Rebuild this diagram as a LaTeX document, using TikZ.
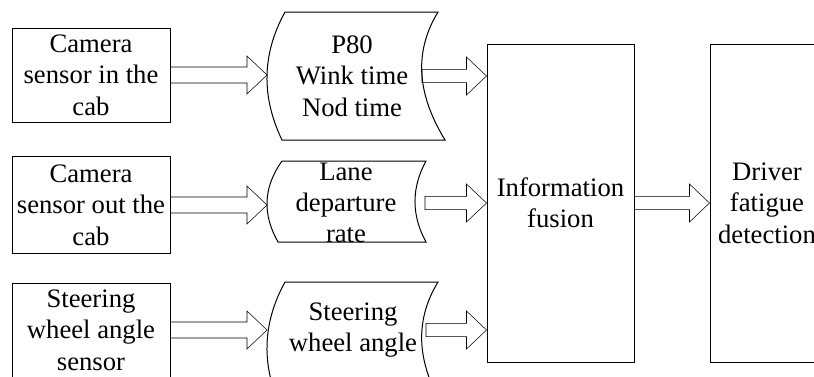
\documentclass[tikz,border=0pt]{standalone}
\usepackage{fontspec}
\setmainfont{Liberation Serif}
\usetikzlibrary{calc}
\begin{document}
\begin{tikzpicture}[x=0.75pt,y=-0.75pt,
  every node/.style={font=\fontsize{20}{23.5}\selectfont, align=center, inner sep=0pt},
  box/.style={draw, line width=0.75pt},
  outline/.style={draw, line width=0.75pt},
  blockarrow/.style={draw, line width=0.6pt, line join=miter,
    to path={let \p1=(\tikztostart), \p2=(\tikztotarget) in
      (\x1,\y1+#1) -- (\x2-15pt,\y1+#1) -- (\x2-15pt,\y1+14.25pt) -- (\x2,\y1)
      -- (\x2-15pt,\y1-14.25pt) -- (\x2-15pt,\y1-#1) -- (\x1,\y1-#1) -- cycle}},
  blockarrow/.default=5pt
]
\useasboundingbox (0,0) rectangle (814,376);
\clip (0,0) rectangle (814,376);

% left boxes
\node[box, minimum width=118.5pt, minimum height=70.5pt] (b1) at (91,75) {Camera\\sensor in the\\cab};
\node[box, minimum width=118.5pt, minimum height=72.75pt] (b2) at (91,205) {Camera\\sensor out the\\cab};
\node[box, minimum width=118.5pt, minimum height=70.5pt] (b3) at (91,330) {Steering\\wheel angle\\sensor};

% middle stored-data shapes
\draw[outline] (285,12) -- (438,12) .. controls (412,54.7) and (419,97.3) .. (445,140)
  -- (282,140) .. controls (261.5,97.3) and (261.5,54.7) .. (285,12) -- cycle;
\node (s1) at (352,76) {P80\\Wink time\\Nod time};
\coordinate (s1w) at (267,75);
\coordinate (s1e) at (422,76);

\draw[outline] (282,161) -- (426,161) .. controls (411.3,188) and (411.3,215) .. (426,242)
  -- (278,242) .. controls (262.7,215) and (262.7,188) .. (282,161) -- cycle;
\node (s2) at (346,203) {Lane\\departure\\rate};
\coordinate (s2w) at (267,205);
\coordinate (s2e) at (425,203);

\draw[outline] (285,282) -- (438,282) .. controls (412,324.7) and (419,367.3) .. (445,410)
  -- (282,410) .. controls (261.5,367.3) and (261.5,324.7) .. (285,282) -- cycle;
\node (s3) at (353,330) {Steering\\wheel angle};
\coordinate (s3w) at (267,330);
\coordinate (s3e) at (426,330);

% right boxes
\node[box, minimum width=110.25pt, minimum height=238.5pt] (info) at (560.5,203) {Information\\fusion};
\node[box, minimum width=85.5pt, minimum height=238.5pt] (drv) at (767,203) {Driver\\fatigue\\detection};

% block arrows
\draw (b1.east) to[blockarrow=6pt] (s1w);
\draw (b2.east) to[blockarrow=6pt] (s2w);
\draw (b3.east) to[blockarrow=6pt] (s3w);
\draw (s1e) to[blockarrow] (info.west |- s1e);
\draw (s2e) to[blockarrow] (info.west |- s2e);
\draw (s3e) to[blockarrow] (info.west |- s3e);
\draw (info.east) to[blockarrow] (drv.west);
\end{tikzpicture}
\end{document}
